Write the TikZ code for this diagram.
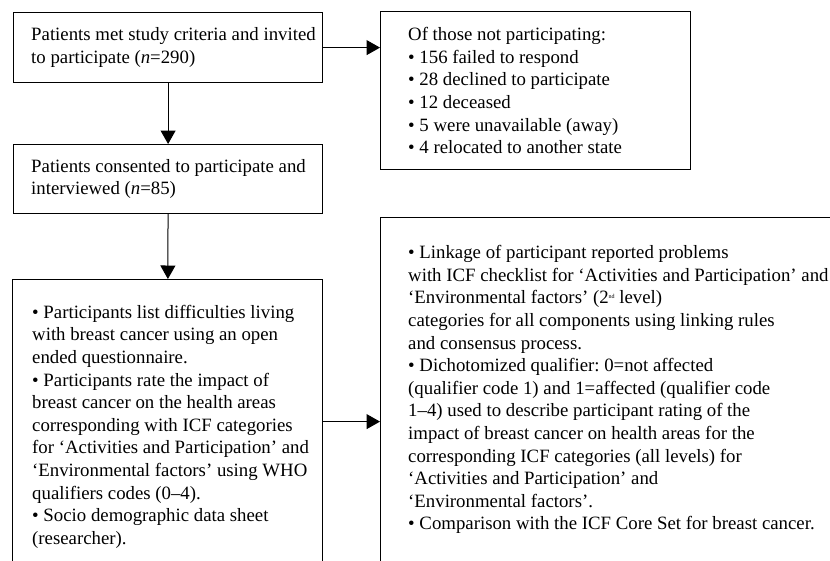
\documentclass[tikz,border=0pt]{standalone}
\usepackage{fontspec}
\setmainfont{Liberation Serif}
\usetikzlibrary{arrows.meta}
\frenchspacing
\begin{document}
\begin{tikzpicture}[x=1pt, y=-1pt, >={Triangle[length=13.5pt, width=15pt]},
    every node/.style={font=\fontsize{18.8}{22.6}\selectfont},
    flowbox/.style={draw, line width=1.2pt, anchor=north west, inner sep=0pt},
    flowtext/.style={anchor=west, align=left, inner sep=0pt}]
    \useasboundingbox (0,0) rectangle (830,560);

    % Recruitment
    \node[flowbox, minimum width=309pt, minimum height=70pt] (invited) at (13,12) {};
    \node[flowtext] (invitedtxt) at ([xshift=18pt]invited.west)
      {Patients met study criteria and invited\\to participate (\textit{n}=290)};
    \node[flowbox, minimum width=310pt, minimum height=158pt] (notpart) at (380,11) {};
    \node[flowtext] (notparttxt) at ([xshift=28pt]notpart.west)
      {Of those not participating:\\
       • 156 failed to respond\\
       • 28 declined to participate\\
       • 12 deceased\\
       • 5 were unavailable (away)\\
       • 4 relocated to another state};

    % Interviews
    \node[flowbox, minimum width=309pt, minimum height=69pt] (consent) at (13,144) {};
    \node[flowtext] (consenttxt) at ([xshift=18pt]consent.west)
      {Patients consented to participate and\\interviewed (\textit{n}=85)};
    \node[flowbox, minimum width=310pt, minimum height=284pt] (collect) at (12,279) {};
    \node[flowtext] (collecttxt) at ([xshift=20pt, yshift=-5pt]collect.west)
      {• Participants list difficulties living\\
       with breast cancer using an open\\
       ended questionnaire.\\
       • Participants rate the impact of\\
       breast cancer on the health areas\\
       corresponding with ICF categories\\
       for ‘Activities and Participation’ and\\
       ‘Environmental factors’ using WHO\\
       qualifiers codes (0--4).\\
       • Socio demographic data sheet\\
       (researcher).};

    % Analysis
    \node[flowbox, minimum width=470pt, minimum height=344pt] (analysis) at (380,217) {};
    \node[flowtext] (analysistxt) at ([xshift=28pt]analysis.west)
      {• Linkage of participant reported problems\\
       with ICF checklist for ‘Activities and Participation’ and\\
       ‘Environmental factors’ (2\raisebox{0.6ex}{\fontsize{6}{6}\selectfont nd} level)\\
       categories for all components using linking rules\\
       and consensus process.\\
       • Dichotomized qualifier: 0=not affected\\
       (qualifier code 1) and 1=affected (qualifier code\\
       1--4) used to describe participant rating of the\\
       impact of breast cancer on health areas for the\\
       corresponding ICF categories (all levels) for\\
       ‘Activities and Participation’ and\\
       ‘Environmental factors’.\\
       • Comparison with the ICF Core Set for breast cancer.};

    % Arrows
    \draw[->, line width=1pt] (invited) -- (consent);
    \draw[->, line width=1pt] (consent) -- (collect);
    \draw[->, line width=1pt] (invited.east) -- (notpart.west |- invited.east);
    \draw[->, line width=1pt] (collect.east) -- (analysis.west |- collect.east);
\end{tikzpicture}
\end{document}
